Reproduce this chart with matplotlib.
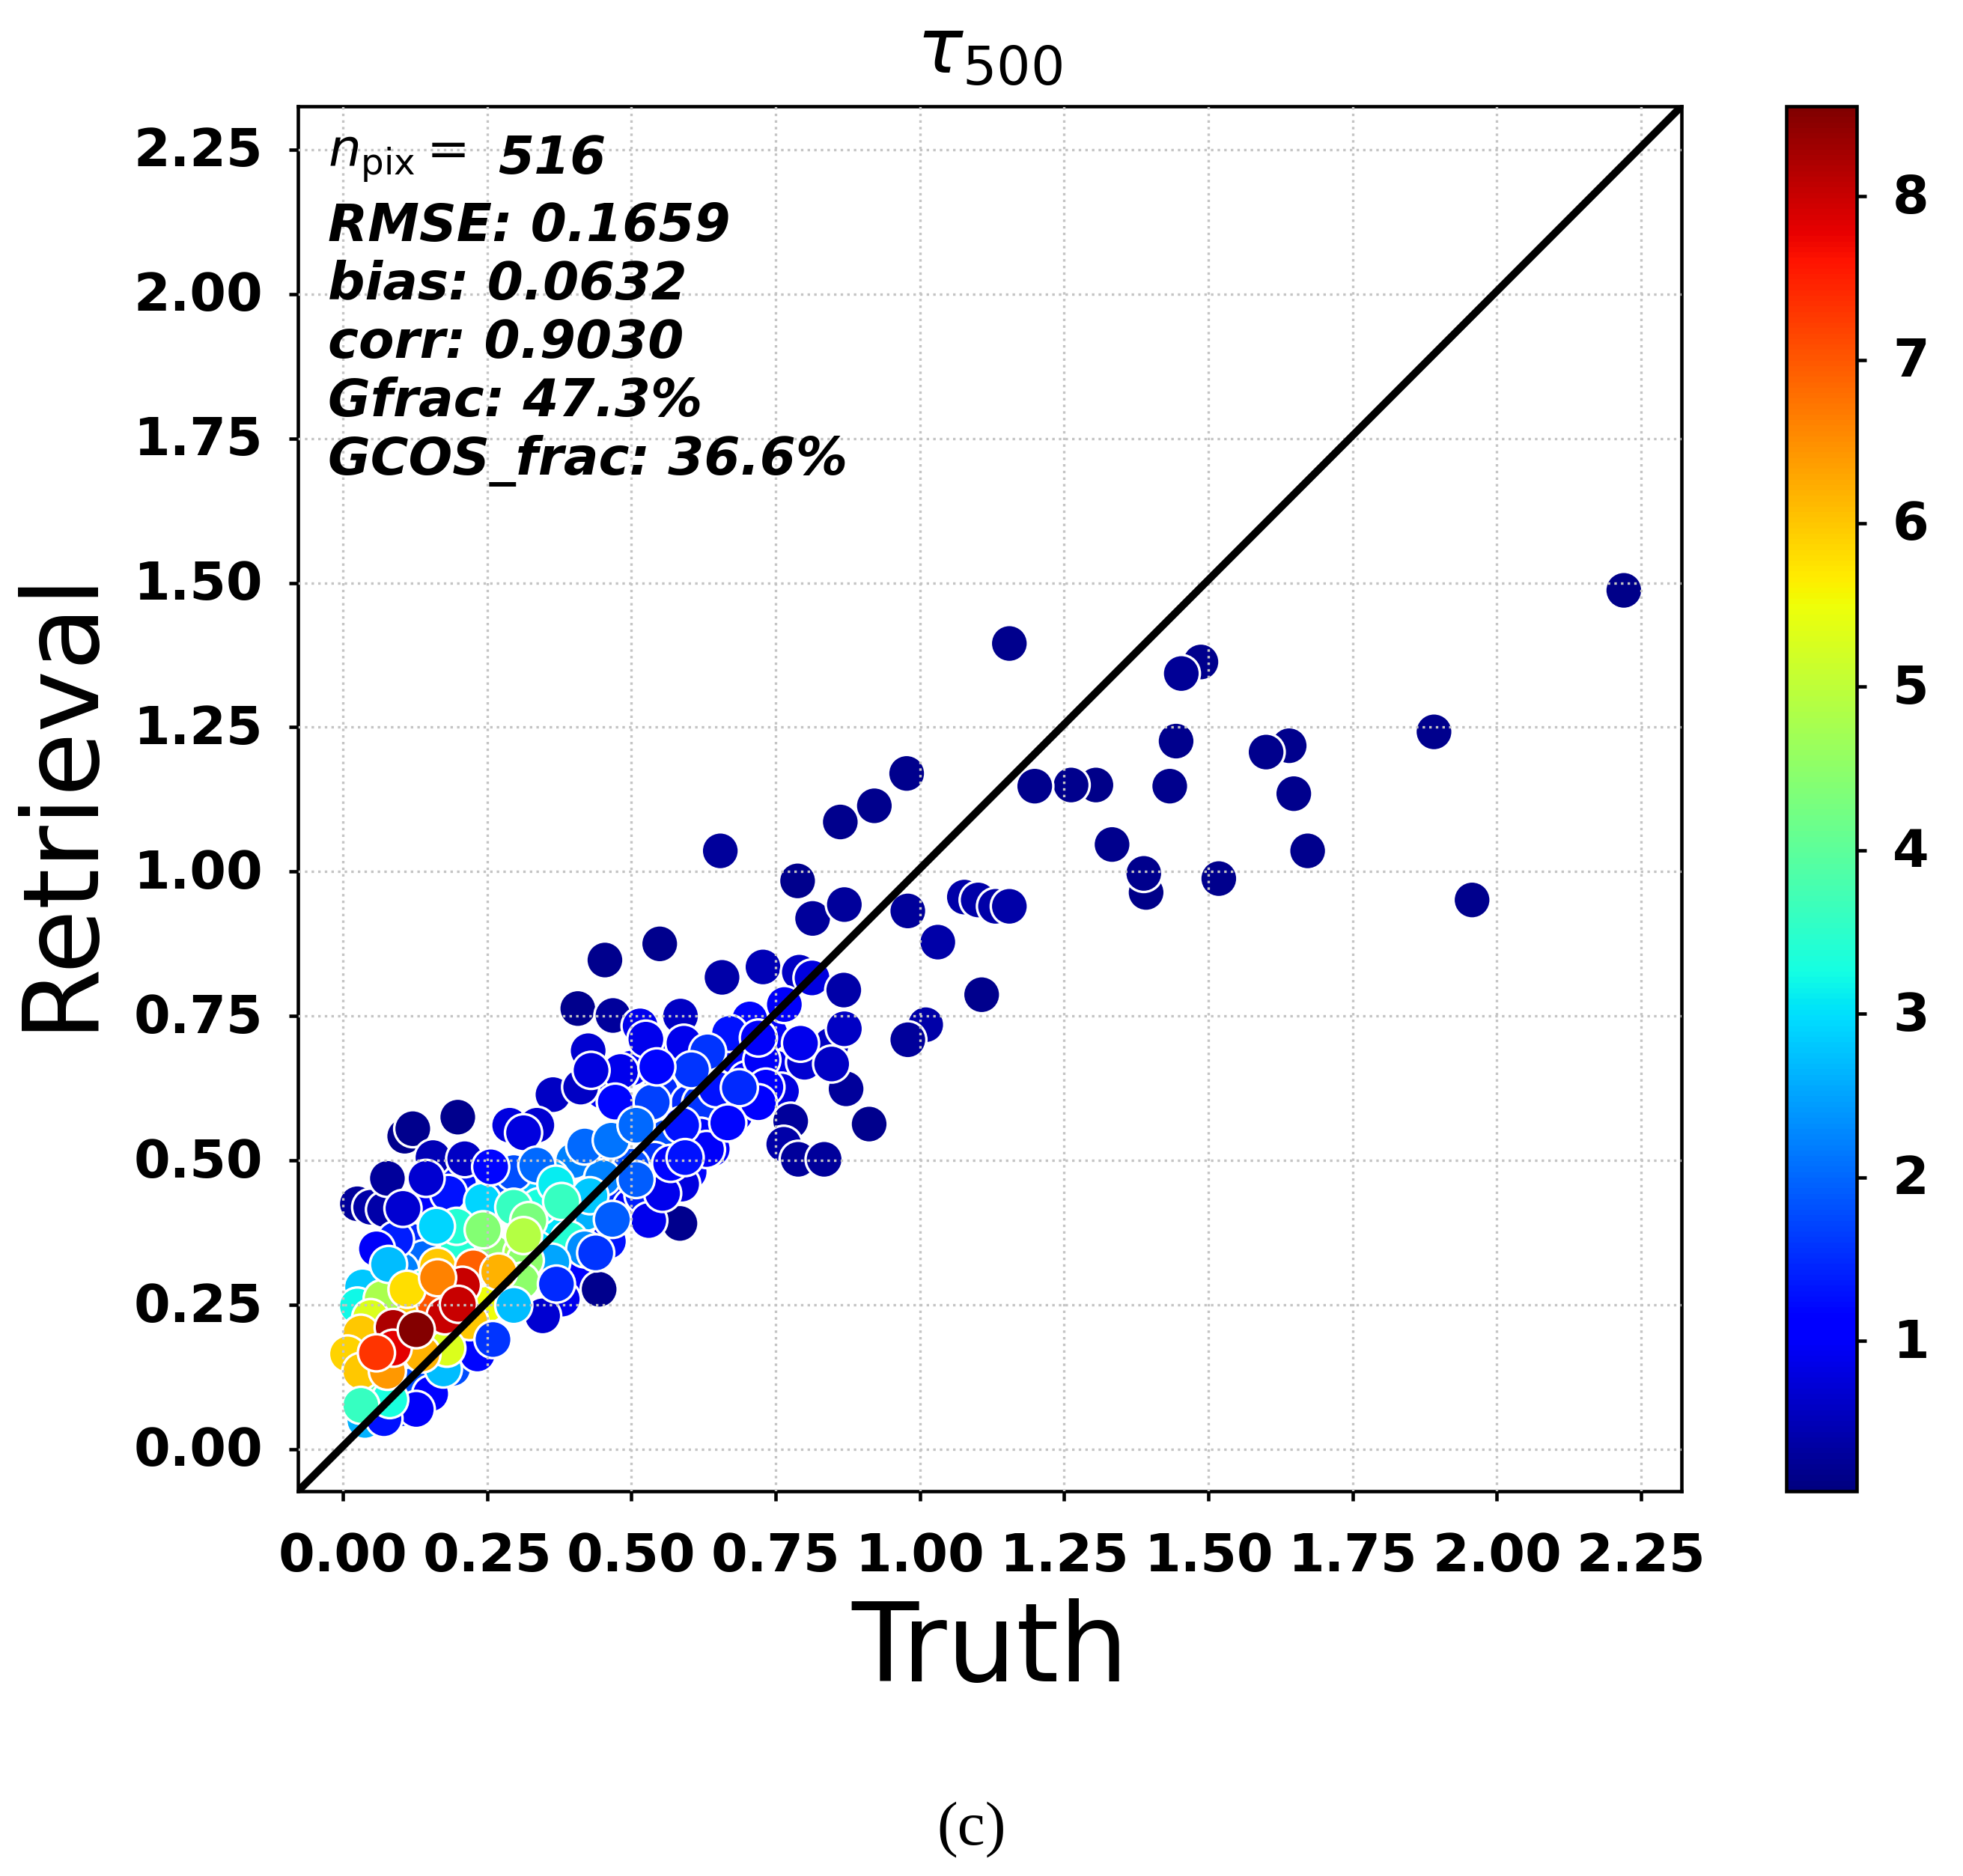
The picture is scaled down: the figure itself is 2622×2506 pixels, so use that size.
"""
plot.py
Retrieval vs truth scatter for tau_500, coloured by a third variable.
"""

import matplotlib
matplotlib.use("Agg")
import matplotlib.pyplot as plt
from matplotlib.transforms import ScaledTranslation

W, H = 2622, 2506

# Points in rough drawing order, later groups sit on top
x_fill = [0.45, 0.5, 0.55, 0.6, 0.56, 0.64, 0.68, 0.62, 0.7, 0.75, 0.76, 0.8, 0.74, 0.56, 0.54,
          0.6, 0.64, 0.68, 0.48, 0.5, 0.44, 0.4, 0.36, 0.32, 0.27, 0.2, 0.12, 0.14, 0.2, 0.26,
          0.31, 0.35, 0.38, 0.1, 0.14, 0.09, 0.11, 0.16, 0.23, 0.26, 0.29, 0.15, 0.2, 0.1, 0.14,
          0.19, 0.06, 0.1, 0.12, 0.43, 0.46, 0.41, 0.38, 0.5, 0.52, 0.45, 0.42, 0.37, 0.34]
y_fill = [0.62, 0.66, 0.62, 0.6, 0.68, 0.66, 0.68, 0.6, 0.64, 0.66, 0.62, 0.67, 0.72, 0.54, 0.5,
          0.48, 0.52, 0.58, 0.44, 0.42, 0.49, 0.5, 0.47, 0.44, 0.46, 0.46, 0.36, 0.33, 0.35, 0.34,
          0.34, 0.35, 0.32, 0.31, 0.28, 0.24, 0.24, 0.25, 0.27, 0.26, 0.27, 0.19, 0.19, 0.13, 0.12,
          0.14, 0.11, 0.07, 0.11, 0.38, 0.36, 0.3, 0.26, 0.49, 0.44, 0.47, 0.41, 0.4, 0.42]
c_fill = [1.0, 1.2, 1.5, 1.5, 1.1, 1.4, 1.2, 1.6, 1.0, 0.9, 0.8, 0.7, 1.0, 1.8, 1.6,
          1.2, 1.1, 1.1, 1.4, 1.2, 2.0, 2.2, 2.6, 2.8, 1.8, 1.3, 1.5, 2.0, 3.4, 4.5,
          4.8, 3.0, 2.2, 2.2, 3.5, 4.5, 6.0, 7.0, 7.5, 5.5, 5.0, 7.0, 5.8, 3.0, 2.5,
          1.8, 4.0, 1.5, 1.8, 1.5, 1.3, 1.1, 0.9, 1.8, 1.4, 2.2, 2.6, 3.0, 3.3]

x_low = [2.22, 1.155, 1.487, 1.453, 1.444, 1.891, 1.64, 1.60, 1.648, 1.672, 1.518, 1.957,
         1.433, 1.305, 1.262, 1.199, 1.333, 1.392, 1.388, 0.977, 0.921, 0.862, 0.654, 0.788,
         0.814, 0.869, 0.979, 1.077, 1.101, 1.131, 1.155, 1.031, 1.107, 1.01, 0.979, 0.549,
         0.454, 0.444, 0.584, 0.912, 0.872, 0.776, 0.764, 0.789, 0.834, 0.199, 0.107, 0.121,
         0.407, 0.468, 0.025, 0.048, 0.072, 0.077]
y_low = [1.487, 1.395, 1.363, 1.343, 1.226, 1.242, 1.218, 1.207, 1.135, 1.036, 0.988, 0.951,
         1.148, 1.15, 1.15, 1.148, 1.047, 0.964, 0.997, 1.17, 1.114, 1.086, 1.036, 0.984,
         0.919, 0.943, 0.932, 0.956, 0.951, 0.94, 0.94, 0.878, 0.787, 0.735, 0.709, 0.875,
         0.847, 0.277, 0.391, 0.563, 0.624, 0.568, 0.528, 0.502, 0.502, 0.575, 0.542, 0.555,
         0.763, 0.751, 0.425, 0.419, 0.415, 0.469]
c_low = [0.15, 0.2, 0.2, 0.25, 0.2, 0.2, 0.2, 0.2, 0.2, 0.2, 0.2, 0.2,
         0.2, 0.15, 0.2, 0.2, 0.2, 0.15, 0.2, 0.2, 0.2, 0.2, 0.3, 0.2,
         0.3, 0.3, 0.3, 0.4, 0.4, 0.4, 0.4, 0.4, 0.2, 0.4, 0.3, 0.2,
         0.2, 0.2, 0.2, 0.2, 0.3, 0.3, 0.4, 0.3, 0.3, 0.2, 0.2, 0.2,
         0.2, 0.3, 0.3, 0.4, 0.4, 0.3]

x_blue = [0.657, 0.728, 0.791, 0.813, 0.868, 0.765, 0.515, 0.525, 0.585, 0.591, 0.705, 0.67,
          0.425, 0.846, 0.726, 0.733, 0.72, 0.647, 0.364, 0.412, 0.289, 0.336, 0.313, 0.156,
          0.211, 0.151, 0.183, 0.091, 0.058, 0.53, 0.587, 0.554, 0.568, 0.62, 0.63, 0.587,
          0.346, 0.233, 0.152, 0.127, 0.481, 0.472, 0.632]
y_blue = [0.817, 0.835, 0.826, 0.816, 0.795, 0.77, 0.733, 0.71, 0.75, 0.703, 0.745, 0.72,
          0.69, 0.7, 0.674, 0.627, 0.6, 0.624, 0.614, 0.627, 0.561, 0.561, 0.548, 0.505,
          0.503, 0.423, 0.443, 0.363, 0.347, 0.396, 0.459, 0.443, 0.495, 0.542, 0.519, 0.561,
          0.231, 0.165, 0.096, 0.069, 0.654, 0.601, 0.688]
c_blue = [0.4, 0.5, 0.6, 0.8, 0.4, 1.0, 0.9, 0.9, 0.6, 0.9, 1.2, 1.3,
          0.7, 0.6, 1.0, 1.1, 1.1, 1.3, 0.6, 0.6, 0.8, 0.7, 0.8, 0.5,
          0.6, 1.1, 1.3, 1.4, 1.0, 0.9, 0.8, 0.9, 1.2, 1.2, 1.0, 1.3,
          0.7, 1.2, 1.1, 1.0, 0.9, 1.2, 1.6]

x_mid = [0.536, 0.419, 0.296, 0.336, 0.369, 0.428, 0.392, 0.419, 0.438, 0.362, 0.242, 0.296,
         0.197, 0.243, 0.322, 0.316, 0.309, 0.034, 0.025, 0.068, 0.048, 0.038, 0.071, 0.081,
         0.174]
y_mid = [0.601, 0.525, 0.479, 0.492, 0.459, 0.439, 0.363, 0.347, 0.34, 0.324, 0.429, 0.419,
         0.386, 0.38, 0.396, 0.327, 0.291, 0.281, 0.248, 0.261, 0.228, 0.05, 0.053, 0.086,
         0.139]
c_mid = [1.7, 2.0, 1.8, 2.0, 3.1, 2.8, 3.4, 2.3, 1.6, 2.5, 2.9, 3.6,
         3.4, 4.4, 4.3, 4.5, 4.5, 2.8, 3.2, 4.8, 5.3, 2.6, 1.3, 3.3,
         2.7]

x_high = [0.25, 0.22, 0.18, 0.137, 0.031, 0.008, 0.031, 0.077, 0.164, 0.226, 0.207, 0.177,
          0.087, 0.087]
y_high = [0.251, 0.221, 0.175, 0.165, 0.201, 0.165, 0.135, 0.135, 0.317, 0.314, 0.284, 0.231,
          0.211, 0.175]
c_high = [5.5, 6.0, 5.3, 6.2, 6.0, 5.9, 6.0, 6.4, 6.0, 6.9, 8.0, 8.0,
          8.2, 7.8]

x_top = [0.379, 0.313, 0.162, 0.079, 0.111, 0.164, 0.27, 0.296, 0.2, 0.127, 0.058, 0.031,
         0.26, 0.37, 0.467, 0.144, 0.104, 0.508, 0.465, 0.508, 0.593, 0.604, 0.544, 0.687,
         0.667, 0.72, 0.43, 0.256, 0.847, 0.869, 0.793]
y_top = [0.429, 0.37, 0.386, 0.32, 0.277, 0.297, 0.307, 0.249, 0.251, 0.207, 0.167, 0.076,
         0.19, 0.286, 0.398, 0.469, 0.417, 0.467, 0.535, 0.561, 0.505, 0.657, 0.662, 0.626,
         0.565, 0.712, 0.656, 0.489, 0.667, 0.728, 0.703]
c_top = [3.6, 4.9, 2.9, 2.7, 5.8, 6.6, 6.2, 2.7, 8.0, 8.5, 7.3, 3.6,
         1.6, 1.5, 1.9, 0.7, 0.7, 1.9, 2.1, 2.0, 1.3, 1.6, 1.2, 1.5,
         1.2, 1.0, 0.8, 1.2, 0.6, 0.6, 0.9]

ticks = [0.0, 0.25, 0.5, 0.75, 1.0, 1.25, 1.5, 1.75, 2.0, 2.25]
cbar_ticks = [1, 2, 3, 4, 5, 6, 7, 8]
xlims = (-0.078, 2.32)
ylims = (-0.0726, 2.325)
stats = ["RMSE: 0.1659", "bias: 0.0632", "corr: 0.9030", "Gfrac: 47.3%", "GCOS_frac: 36.6%"]
stats_y = [0.913, 0.871, 0.829, 0.787, 0.744]

x = x_fill + x_low + x_blue + x_mid + x_high + x_top
y = y_fill + y_low + y_blue + y_mid + y_high + y_top
c = c_fill + c_low + c_blue + c_mid + c_high + c_top

fig = plt.figure(figsize=(W / 300, H / 300), dpi=300)
ax = fig.add_axes([398 / W, 1 - 1992 / H, 1848 / W, 1850 / H])
cax = fig.add_axes([2386 / W, 1 - 1992 / H, 94 / W, 1850 / H])

sc = ax.scatter(x, y, c=c, s=142, cmap="jet", vmin=0.08, vmax=8.55,
                edgecolors="white", linewidths=0.8, zorder=2)
ax.plot(xlims, ylims, color="black", lw=2.4, zorder=4)

ax.set_xlim(xlims)
ax.set_ylim(ylims)
ax.set_xticks(ticks)
ax.set_yticks(ticks)
ax.set_xticklabels([f"{t:.2f}" for t in ticks])
ax.set_yticklabels([f"{t:.2f}" for t in ticks], va="center")
ax.tick_params(labelsize=16.8, width=1.1, length=3)
ax.tick_params(axis="x", pad=10)
ax.tick_params(axis="y", pad=8.3)
for lab in ax.get_xticklabels() + ax.get_yticklabels():
    lab.set_fontweight("bold")
# labels sit a touch lower than plain centering in the original
nudge = ScaledTranslation(0, -3 / 300, fig.dpi_scale_trans)
for lab in ax.get_yticklabels():
    lab.set_transform(lab.get_transform() + nudge)
ax.grid(True, linestyle=":", color="#c4c4c4", linewidth=0.8, zorder=3)
ax.set_axisbelow(False)
for sp in ax.spines.values():
    sp.set_linewidth(1.1)

ax.set_xlabel("Truth", fontsize=35, labelpad=5.2)
ax.set_ylabel("Retrieval", fontsize=33.5, labelpad=7.4)
ax.set_title(r"$\tau_{500}$", fontsize=24.5, pad=10.5)

ax.text(0.0217, 0.962, r"$n_{\mathrm{pix}}=$", transform=ax.transAxes, fontsize=16.6, va="center", zorder=5)
ax.text(0.1445, 0.962, "516", transform=ax.transAxes, fontsize=16.6, va="center",
        fontweight="bold", fontstyle="italic", zorder=5)
for line, ypos in zip(stats, stats_y):
    ax.text(0.0217, ypos, line, transform=ax.transAxes, fontsize=16.6, va="center",
            fontweight="bold", fontstyle="italic", zorder=5)

cb = fig.colorbar(sc, cax=cax)
cb.set_ticks(cbar_ticks)
cb.ax.tick_params(labelsize=16.8, width=1.1, length=3, pad=8.5)
for lab in cb.ax.get_yticklabels():
    lab.set_fontweight("bold")
    lab.set_va("center")
    lab.set_transform(lab.get_transform() + nudge)
cb.outline.set_linewidth(1.1)

fig.text(776 / 1568, 1 - 1462 / 1499, "(c)", fontsize=20, family="Liberation Serif",
         ha="center", va="center")

fig.savefig("out.png", dpi=300)
